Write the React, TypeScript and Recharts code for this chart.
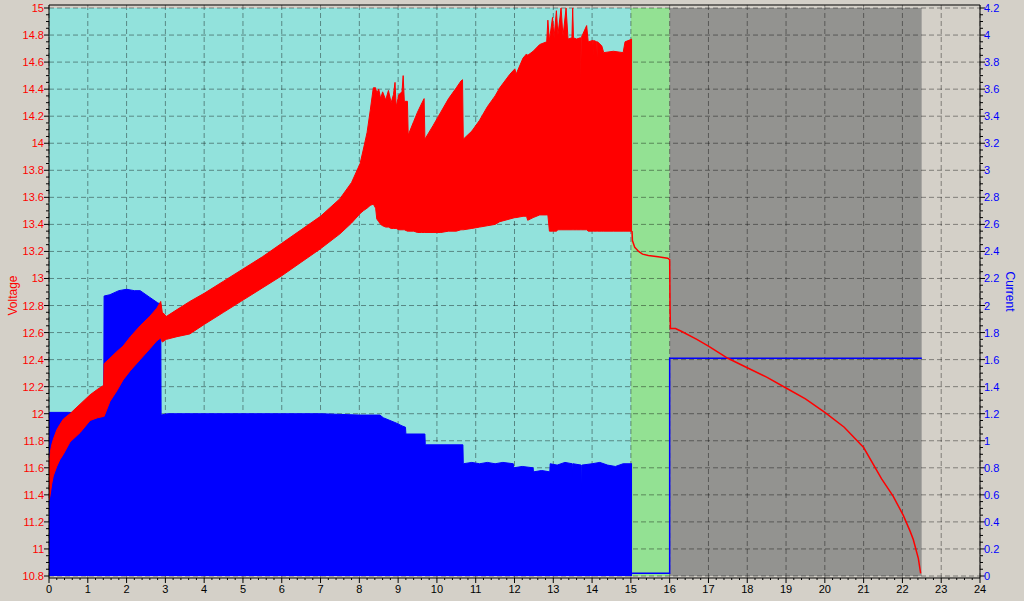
import React from 'react';
import {
  ComposedChart,
  Area,
  Line,
  XAxis,
  YAxis,
  CartesianGrid,
  ReferenceArea,
} from 'recharts';

// Labelled tick values
const HOUR_TICKS = [0, 1, 2, 3, 4, 5, 6, 7, 8, 9, 10, 11, 12, 13, 14, 15, 16, 17, 18, 19, 20, 21, 22, 23, 24];
const VOLT_TICKS = [10.8, 11, 11.2, 11.4, 11.6, 11.8, 12, 12.2, 12.4, 12.6, 12.8, 13, 13.2, 13.4, 13.6, 13.8, 14, 14.2, 14.4, 14.6, 14.8, 15];
const AMP_TICKS = [0, 0.2, 0.4, 0.6, 0.8, 1, 1.2, 1.4, 1.6, 1.8, 2, 2.2, 2.4, 2.6, 2.8, 3, 3.2, 3.4, 3.6, 3.8, 4, 4.2];

// Charge phases shown as background bands (hours)
const PHASES = [
  { from: 0, to: 15, color: '#92e2dc' },
  { from: 15, to: 16, color: '#93e193' },
  { from: 16, to: 22.5, color: '#939390' },
  { from: 22.5, to: 24, color: '#d4d0c8' },
];

// Voltage while charging: [hour, low, high] of the ripple band
const voltageBand: [number, number, number][] = [
  [0.0, 11.36, 11.62], [0.03, 11.4, 11.71], [0.07, 11.48, 11.77], [0.11, 11.54, 11.81],
  [0.2, 11.61, 11.88], [0.28, 11.66, 11.92], [0.37, 11.7, 11.96], [0.54, 11.79, 12.0],
  [0.8, 11.86, 12.07], [1.06, 11.95, 12.14], [1.25, 11.97, 12.18], [1.41, 11.98, 12.21],
  [1.42, 11.98, 12.37], [1.57, 12.09, 12.41], [1.75, 12.17, 12.46], [1.91, 12.25, 12.5],
  [2.1, 12.32, 12.57], [2.35, 12.4, 12.65], [2.6, 12.48, 12.72], [2.78, 12.54, 12.78],
  [2.88, 12.56, 12.83], [2.92, 12.53, 12.75], [3.03, 12.55, 12.72], [3.3, 12.57, 12.77],
  [3.63, 12.59, 12.83], [4.0, 12.66, 12.89], [4.5, 12.75, 12.98], [5.0, 12.84, 13.07],
  [5.5, 12.93, 13.16], [6.0, 13.02, 13.26], [6.5, 13.12, 13.36], [7.0, 13.22, 13.46],
  [7.5, 13.33, 13.59], [7.8, 13.41, 13.71], [8.02, 13.48, 13.85], [8.1, 13.5, 13.95],
  [8.2, 13.52, 14.08], [8.28, 13.54, 14.24], [8.36, 13.55, 14.41], [8.42, 13.52, 14.41],
  [8.45, 13.44, 14.37], [8.5, 13.42, 14.4], [8.55, 13.4, 14.33], [8.6, 13.39, 14.38],
  [8.68, 13.38, 14.32], [8.75, 13.38, 14.39], [8.82, 13.37, 14.3], [8.88, 13.37, 14.36],
  [8.92, 13.37, 14.45], [8.95, 13.37, 14.27], [9.02, 13.36, 14.36], [9.1, 13.36, 14.38],
  [9.13, 13.36, 14.5], [9.16, 13.36, 14.31], [9.24, 13.35, 14.31], [9.26, 13.35, 14.06],
  [9.4, 13.35, 14.16], [9.5, 13.34, 14.23], [9.6, 13.34, 14.29], [9.67, 13.34, 14.33],
  [9.69, 13.34, 14.03], [9.9, 13.34, 14.13], [10.1, 13.34, 14.23], [10.3, 13.35, 14.33],
  [10.5, 13.35, 14.41], [10.62, 13.36, 14.46], [10.66, 13.36, 14.47], [10.68, 13.36, 14.03],
  [10.9, 13.37, 14.09], [11.1, 13.38, 14.17], [11.3, 13.39, 14.27], [11.5, 13.4, 14.35],
  [11.62, 13.42, 14.41], [11.88, 13.44, 14.51], [12.01, 13.45, 14.55], [12.04, 13.45, 14.51],
  [12.22, 13.46, 14.63], [12.31, 13.46, 14.66], [12.34, 13.43, 14.65], [12.48, 13.45, 14.68],
  [12.65, 13.47, 14.73], [12.83, 13.47, 14.75], [12.86, 13.47, 14.91], [12.9, 13.35, 14.76],
  [12.98, 13.35, 14.93], [13.02, 13.35, 14.78], [13.08, 13.35, 14.98], [13.12, 13.36, 14.8],
  [13.2, 13.36, 15.0], [13.25, 13.36, 14.79], [13.33, 13.36, 15.0], [13.38, 13.36, 14.77],
  [13.48, 13.36, 14.78], [13.5, 13.36, 15.0], [13.52, 13.36, 14.78], [13.6, 13.36, 14.77],
  [13.7, 13.36, 14.78], [13.71, 13.36, 14.48], [13.72, 13.36, 14.78], [13.86, 13.36, 14.87],
  [13.9, 13.35, 14.75], [14.02, 13.35, 14.76], [14.03, 13.35, 14.64], [14.04, 13.35, 14.76],
  [14.12, 13.35, 14.75], [14.13, 13.35, 14.63], [14.14, 13.35, 14.75], [14.25, 13.35, 14.72],
  [14.3, 13.35, 14.67], [14.55, 13.35, 14.68], [14.8, 13.35, 14.67], [14.85, 13.35, 14.75],
  [15.03, 13.35, 14.77],
];

// Voltage after charging: float, then discharge [hour, volts]
const voltageTail: [number, number][] = [
  [15.03, 13.35], [15.04, 13.28], [15.1, 13.23], [15.2, 13.2], [15.3, 13.18], [15.45, 13.17],
  [15.7, 13.16], [15.95, 13.15], [16.0, 13.14], [16.01, 12.78], [16.02, 12.63], [16.15, 12.63],
  [16.3, 12.61], [16.7, 12.55], [17.0, 12.5], [17.5, 12.41], [18.0, 12.34], [18.5, 12.27],
  [19.0, 12.19], [19.5, 12.11], [20.0, 12.01], [20.5, 11.9], [21.0, 11.75], [21.46, 11.52],
  [21.76, 11.39], [22.02, 11.25], [22.2, 11.13], [22.28, 11.07], [22.41, 10.93], [22.47, 10.82],
];

// Charge current [hour, amps]
const currentFill: [number, number][] = [
  [0.0, 1.21], [0.5, 1.21], [1.0, 1.2], [1.41, 1.21], [1.42, 2.07], [1.57, 2.08],
  [1.8, 2.11], [2.0, 2.12], [2.2, 2.11], [2.35, 2.11], [2.5, 2.08], [2.6, 2.06],
  [2.7, 2.04], [2.8, 2.02], [2.88, 2.01], [2.89, 1.19], [3.05, 1.2], [4.0, 1.2],
  [5.0, 1.2], [6.0, 1.2], [7.0, 1.2], [8.0, 1.19], [8.53, 1.19], [8.62, 1.17],
  [8.79, 1.15], [8.96, 1.13], [9.1, 1.11], [9.19, 1.1], [9.2, 1.05], [9.69, 1.05],
  [9.7, 0.97], [10.67, 0.97], [10.68, 0.83], [10.9, 0.84], [11.1, 0.83], [11.3, 0.84],
  [11.5, 0.83], [11.7, 0.84], [11.97, 0.83], [11.98, 0.8], [12.2, 0.81], [12.48, 0.8],
  [12.49, 0.77], [12.7, 0.78], [12.91, 0.77], [12.92, 0.83], [13.1, 0.82], [13.3, 0.84],
  [13.49, 0.83], [13.5, 0.73], [13.51, 0.83], [13.72, 0.82], [13.73, 0.59], [13.74, 0.82],
  [14.0, 0.83], [14.2, 0.84], [14.4, 0.82], [14.6, 0.81], [14.8, 0.83], [15.03, 0.83],
];

// Current after charging [hour, amps]
const currentTail: [number, number][] = [
  [15.03, 0.02], [16.0, 0.02], [16.0, 1.61], [22.5, 1.61],
];

const bandRows = voltageBand.map(([h, lo, hi]) => ({ h, v: [lo, hi] }));
const voltRows = voltageTail.map(([h, v]) => ({ h, v }));
const fillRows = currentFill.map(([h, i]) => ({ h, i }));
const ampRows = currentTail.map(([h, i]) => ({ h, i }));

// minor ticks between labelled ones
const subdivide = (major: number[], parts: number) => {
  const out: number[] = [];
  for (let k = 0; k < major.length - 1; k++) {
    const step = (major[k + 1] - major[k]) / parts;
    for (let j = 0; j < parts; j++) out.push(Math.round((major[k] + j * step) * 1000) / 1000);
  }
  out.push(major[major.length - 1]);
  return out;
};

const isMajor = (v: number, major: number[]) => major.some((m) => Math.abs(m - v) < 1e-6);

const FONT = '"Liberation Sans", Arial, sans-serif';

const VoltTick = ({ x, y, payload }: any) => {
  const major = isMajor(payload.value, VOLT_TICKS);
  return (
    <g>
      <line x1={x - (major ? 5 : 3)} x2={x} y1={y} y2={y} stroke="#000" />
      {major && (
        <text x={x - 5} y={y} dy={4} textAnchor="end" fill="#ff0000" fontSize={11} fontFamily={FONT}>
          {payload.value}
        </text>
      )}
    </g>
  );
};

const AmpTick = ({ x, y, payload }: any) => {
  const major = isMajor(payload.value, AMP_TICKS);
  return (
    <g>
      <line x1={x} x2={x + (major ? 5 : 3)} y1={y} y2={y} stroke="#000" />
      {major && (
        <text x={x + 4} y={y} dy={4} textAnchor="start" fill="#0000ff" fontSize={11} fontFamily={FONT}>
          {payload.value}
        </text>
      )}
    </g>
  );
};

const HourTick = ({ x, y, payload }: any) => {
  const major = isMajor(payload.value, HOUR_TICKS);
  return (
    <g>
      <line x1={x} x2={x} y1={y} y2={y + (major ? 5 : 2)} stroke="#000" />
      {major && (
        <text x={x} y={y + 15} textAnchor="middle" fill="#000" fontSize={11} fontFamily={FONT}>
          {payload.value}
        </text>
      )}
    </g>
  );
};

export default function App() {
  return (
    <div style={{ position: 'fixed', left: 0, top: 0, width: 1024, height: 601, background: '#d4d0c8' }}>
      <ComposedChart width={1024} height={601} margin={{ top: 4, right: 0, bottom: 0, left: 0 }}>
        {PHASES.map((p) => (
          <ReferenceArea
            key={p.from}
            xAxisId="h"
            yAxisId="v"
            x1={p.from}
            x2={p.to}
            fill={p.color}
            fillOpacity={1}
            stroke="none"
            ifOverflow="extendDomain"
            zIndex={-300}
          />
        ))}
        <CartesianGrid
          xAxisId="h"
          yAxisId="v"
          horizontalValues={VOLT_TICKS}
          verticalValues={HOUR_TICKS}
          stroke="#000"
          strokeOpacity={0.4}
          strokeDasharray="5 3"
          zIndex={-100}
        />
        <XAxis
          xAxisId="h"
          dataKey="h"
          type="number"
          domain={[0, 24]}
          allowDataOverflow
          ticks={subdivide(HOUR_TICKS, 5)}
          interval={0}
          tick={<HourTick />}
          tickLine={false}
          tickSize={0}
          tickMargin={0}
          axisLine={{ stroke: '#000' }}
          height={23}
        />
        <XAxis
          xAxisId="top"
          orientation="top"
          type="number"
          domain={[0, 24]}
          tick={false}
          tickLine={false}
          axisLine={{ stroke: '#000' }}
          height={1}
        />
        <YAxis
          yAxisId="v"
          orientation="left"
          type="number"
          domain={[10.8, 15]}
          allowDataOverflow
          ticks={subdivide(VOLT_TICKS, 4)}
          interval={0}
          tick={<VoltTick />}
          tickLine={false}
          tickSize={0}
          tickMargin={0}
          axisLine={{ stroke: '#000' }}
          width={49}
          padding={{ top: 3, bottom: 2 }}
          label={{
            content: ({ viewBox }: any) => (
              <text
                transform={`translate(${viewBox.x + 17},${viewBox.y + viewBox.height / 2 + 4}) rotate(-90)`}
                textAnchor="middle"
                fill="#ff0000"
                fontSize={12}
                fontFamily={FONT}
              >
                Voltage
              </text>
            ),
          }}
        />
        <YAxis
          yAxisId="i"
          orientation="right"
          type="number"
          domain={[0, 4.2]}
          allowDataOverflow
          ticks={subdivide(AMP_TICKS, 4)}
          interval={0}
          tick={<AmpTick />}
          tickLine={false}
          tickSize={0}
          tickMargin={0}
          axisLine={{ stroke: '#000' }}
          width={44}
          padding={{ top: 3, bottom: 2 }}
          label={{
            content: ({ viewBox }: any) => (
              <text
                transform={`translate(${viewBox.x + 26},${viewBox.y + viewBox.height / 2}) rotate(90)`}
                textAnchor="middle"
                fill="#0000ff"
                fontSize={12}
                fontFamily={FONT}
              >
                Current
              </text>
            ),
          }}
        />
        <Area
          xAxisId="h"
          yAxisId="i"
          data={fillRows}
          dataKey="i"
          type="linear"
          stroke="#0000ff"
          fill="#0000ff"
          fillOpacity={1}
          isAnimationActive={false}
        />
        <Area
          xAxisId="h"
          yAxisId="v"
          data={bandRows}
          dataKey="v"
          type="linear"
          stroke="#ff0000"
          fill="#ff0000"
          fillOpacity={1}
          isAnimationActive={false}
        />
        <Line
          xAxisId="h"
          yAxisId="i"
          data={ampRows}
          dataKey="i"
          type="linear"
          stroke="#0000ff"
          strokeWidth={1.5}
          dot={false}
          isAnimationActive={false}
        />
        <Line
          xAxisId="h"
          yAxisId="v"
          data={voltRows}
          dataKey="v"
          type="linear"
          stroke="#ff0000"
          strokeWidth={1.5}
          dot={false}
          isAnimationActive={false}
        />
      </ComposedChart>
    </div>
  );
}
